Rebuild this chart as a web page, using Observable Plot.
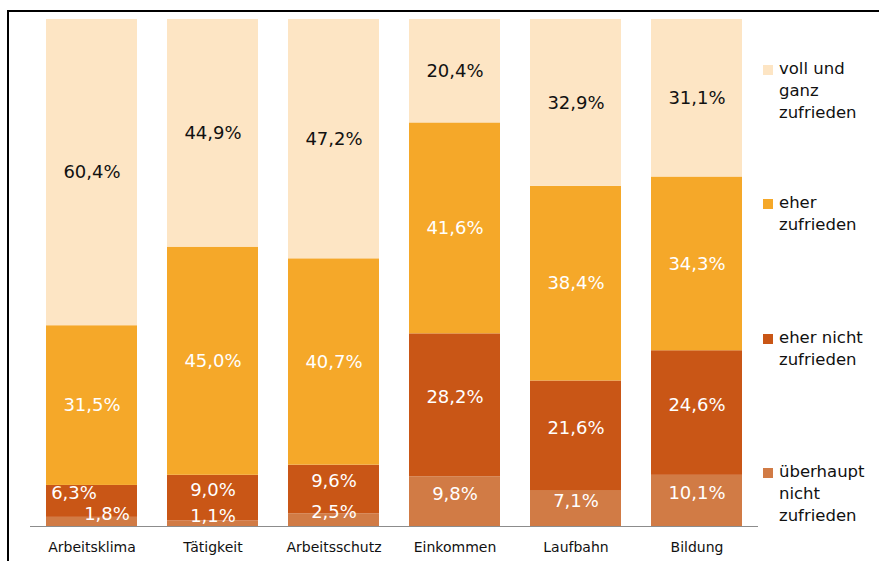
<!DOCTYPE html>
<html>
<head>
<meta charset="utf-8">
<script src="https://cdn.jsdelivr.net/npm/d3@7"></script>
<script src="https://cdn.jsdelivr.net/npm/@observablehq/plot@0.6"></script>
<style>
  body { margin: 0; background: #fff; }
  #wrap { position: relative; width: 879px; height: 561px; overflow: hidden; font-family: "DejaVu Sans", sans-serif; background: #fff; }
  #wrap svg { position: absolute; left: 0; top: 0; }
  #frame { position: absolute; left: 7px; top: 10px; width: 1000px; height: 1000px; border-top: 2px solid #000; border-left: 2px solid #000; box-sizing: border-box; }
  .leg { position: absolute; left: 763px; font-size: 16.5px; line-height: 22px; color: #111; }
  .leg .sw { position: absolute; left: 0; top: 7px; width: 10px; height: 10px; }
  .leg .tx { position: absolute; left: 16px; top: 0; white-space: nowrap; }
</style>
</head>
<body>
<div id="wrap"><div id="frame"></div></div>
<script>
// ---- data ----
const categories = ["Arbeitsklima", "Tätigkeit", "Arbeitsschutz", "Einkommen", "Laufbahn", "Bildung"];
const seriesNames = ["überhaupt nicht zufrieden", "eher nicht zufrieden", "eher zufrieden", "voll und ganz zufrieden"];
const ueberhauptNicht = [1.8, 1.1, 2.5, 9.8, 7.1, 10.1];
const eherNicht = [6.3, 9.0, 9.6, 28.2, 21.6, 24.6];
const eher = [31.5, 45.0, 40.7, 41.6, 38.4, 34.3];
const vollUndGanz = [60.4, 44.9, 47.2, 20.4, 32.9, 31.1];
const legendOrder = ["voll und ganz zufrieden", "eher zufrieden", "eher nicht zufrieden", "überhaupt nicht zufrieden"];
const legendLines = [["voll und", "ganz", "zufrieden"], ["eher", "zufrieden"], ["eher nicht", "zufrieden"], ["überhaupt", "nicht", "zufrieden"]];

// ---- styles ----
const colors = {
  "überhaupt nicht zufrieden": "#D17B45",
  "eher nicht zufrieden": "#C95616",
  "eher zufrieden": "#F5A829",
  "voll und ganz zufrieden": "#FDE5C4"
};
const labelFill = {
  "überhaupt nicht zufrieden": "#fff",
  "eher nicht zufrieden": "#fff",
  "eher zufrieden": "#fff",
  "voll und ganz zufrieden": "#111"
};
const labelDy = {
  "überhaupt nicht zufrieden": -7.5,
  "eher nicht zufrieden": -8,
  "eher zufrieden": 0,
  "voll und ganz zufrieden": 0
};

// ---- table ----
const seriesValues = [ueberhauptNicht, eherNicht, eher, vollUndGanz];
const rows = [];
categories.forEach((cat, i) => {
  const total = d3.sum(seriesValues, s => s[i]);
  const crowded = eherNicht[i] < 7;
  let cum = 0;
  seriesNames.forEach((name, k) => {
    const v = seriesValues[k][i];
    rows.push({
      cat, series: name, value: v,
      y1: cum / total, y2: (cum + v) / total, mid: (cum + v / 2) / total,
      crowded
    });
    cum += v;
  });
});

const fmt = v => v.toFixed(1).replace(".", ",") + "%";

const textMarks = [];
seriesNames.forEach(name => {
  [false, true].forEach(cr => {
    let dx = 0;
    if (cr && name === "eher nicht zufrieden") dx = -18;
    if (cr && name === "überhaupt nicht zufrieden") dx = 15;
    textMarks.push(Plot.text(rows.filter(d => d.series === name && d.crowded === cr), {
      x: "cat", y: "mid", text: d => fmt(d.value),
      fill: labelFill[name], fontSize: 18, dx, dy: labelDy[name]
    }));
  });
});

const chart = Plot.plot({
  width: 879,
  height: 561,
  marginLeft: 30,
  marginRight: 121,
  marginTop: 19,
  marginBottom: 35,
  style: { fontFamily: "DejaVu Sans, sans-serif", fontSize: "14px", color: "#111", background: "transparent" },
  x: { domain: categories, paddingInner: 0.25, paddingOuter: 0.125, label: null, tickSize: 0, tickPadding: 16 },
  y: { domain: [0, 1], axis: null },
  color: { domain: seriesNames, range: seriesNames.map(s => colors[s]) },
  marks: [
    Plot.barY(rows, { x: "cat", y1: "y1", y2: "y2", fill: "series" }),
    Plot.ruleY([0], { stroke: "#8c8c8c", strokeWidth: 1 }),
    ...textMarks
  ]
});

const wrap = document.getElementById("wrap");
wrap.insertBefore(chart, wrap.firstChild);

// ---- legend ----
const legendTops = [58, 192, 327, 461];
legendOrder.forEach((name, k) => {
  const div = document.createElement("div");
  div.className = "leg";
  div.style.top = legendTops[k] + "px";
  const sw = document.createElement("div");
  sw.className = "sw";
  sw.style.background = colors[name];
  const tx = document.createElement("div");
  tx.className = "tx";
  tx.innerHTML = legendLines[k].join("<br>");
  div.appendChild(sw);
  div.appendChild(tx);
  wrap.appendChild(div);
});
</script>
</body>
</html>
